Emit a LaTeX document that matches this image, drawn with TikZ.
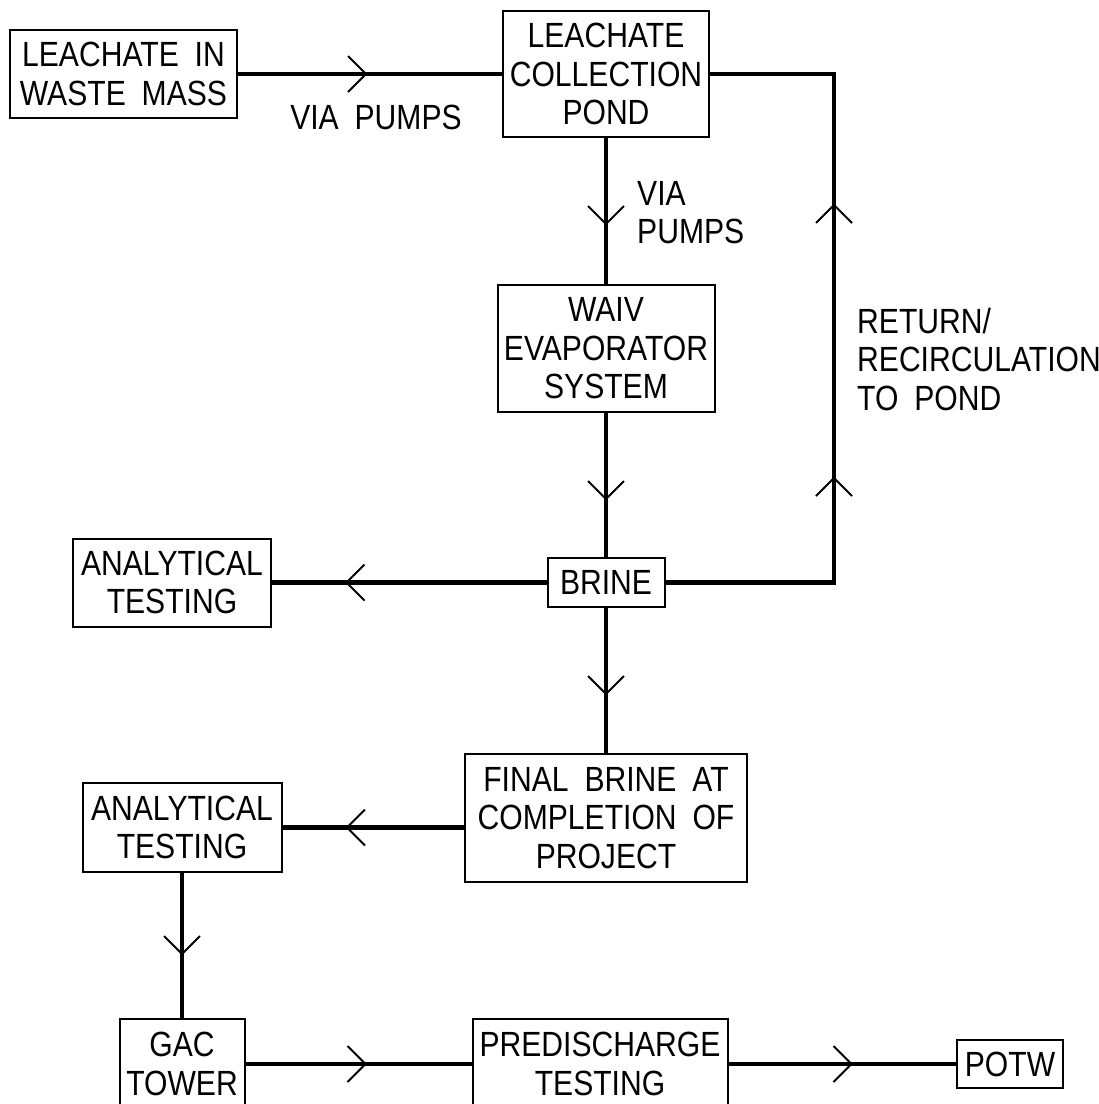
\documentclass[tikz,border=0pt]{standalone}
\usepackage{fontspec}
\setmainfont{Liberation Sans}[FakeStretch=0.86, WordSpace=1.9]
\usetikzlibrary{decorations.markings}
\begin{document}
\begin{tikzpicture}[x=1pt,y=-1pt,
  txt/.style={font=\fontsize{35}{38.5}\selectfont},
  box/.style={txt, draw, line width=2pt, align=center, inner sep=0pt},
  lbl/.style={txt, align=left, inner sep=0pt},
  conn/.style={line width=4.8pt},
  chev/.style={line width=2pt},
  arrowat/.style={postaction={decorate}, decoration={markings,
     mark=at position #1 with {\draw[chev] (-18pt,-18pt)--(0pt,0pt)--(-18pt,18pt);}}},
  arrowtwo/.style 2 args={postaction={decorate}, decoration={markings,
     mark=at position #1 with {\draw[chev] (-18pt,-18pt)--(0pt,0pt)--(-18pt,18pt);},
     mark=at position #2 with {\draw[chev] (-18pt,-18pt)--(0pt,0pt)--(-18pt,18pt);}}}]
\useasboundingbox (0,0) rectangle (1099,1104);

% nodes
\node[box, minimum width=227, minimum height=88] (waste) at (123.5,74) {LEACHATE IN\\WASTE MASS};
\node[box, minimum width=206, minimum height=126] (pond) at (606,74) {LEACHATE\\COLLECTION\\POND};
\node[box, minimum width=217, minimum height=127] (waiv) at (606,348.5) {WAIV\\EVAPORATOR\\SYSTEM};
\node[box, minimum width=117, minimum height=49] (brine) at (606,582.5) {BRINE};
\node[box, minimum width=198, minimum height=88] (at1) at (172,582.5) {ANALYTICAL\\TESTING};
\node[box, minimum width=282, minimum height=128] (final) at (606,818) {FINAL BRINE AT\\COMPLETION OF\\PROJECT};
\node[box, minimum width=199, minimum height=89] (at2) at (182,827.5) {ANALYTICAL\\TESTING};
\node[box, minimum width=125, minimum height=90] (gac) at (182,1064) {GAC\\TOWER};
\node[box, minimum width=255, minimum height=90] (pred) at (600,1064) {PREDISCHARGE\\TESTING};
\node[box, minimum width=106, minimum height=48] (potw) at (1010,1064) {POTW};

% labels
\node[lbl, anchor=center] (lp1) at (376,117) {VIA PUMPS};
\node[lbl, anchor=west] (lp2) at (637,212.5) {VIA\\PUMPS};
\node[lbl, anchor=west] (lret) at (857,359) {RETURN/\\RECIRCULATION\\TO POND};

\coordinate (rx) at (834,0);

% connectors
\draw[conn, arrowat=128pt] (waste.east) -- (pond.west);
\draw[conn, arrowtwo={273pt}{546pt}] (brine.east) -| (rx |- pond.east) -- (pond.east);
\draw[conn, arrowat=86pt] (pond.south) -- (waiv.north);
\draw[conn, arrowat=86pt] (waiv.south) -- (brine.north);
\draw[conn, arrowat=200pt] (brine.west) -- (at1.east);
\draw[conn, arrowat=86pt] (brine.south) -- (final.north);
\draw[conn, arrowat=117pt] (final.west |- at2.east) -- (at2.east);
\draw[conn, arrowat=81pt] (at2.south) -- (gac.north);
\draw[conn, arrowat=120pt] (gac.east) -- (pred.west);
\draw[conn, arrowat=123pt] (pred.east) -- (potw.west);
\end{tikzpicture}
\end{document}
